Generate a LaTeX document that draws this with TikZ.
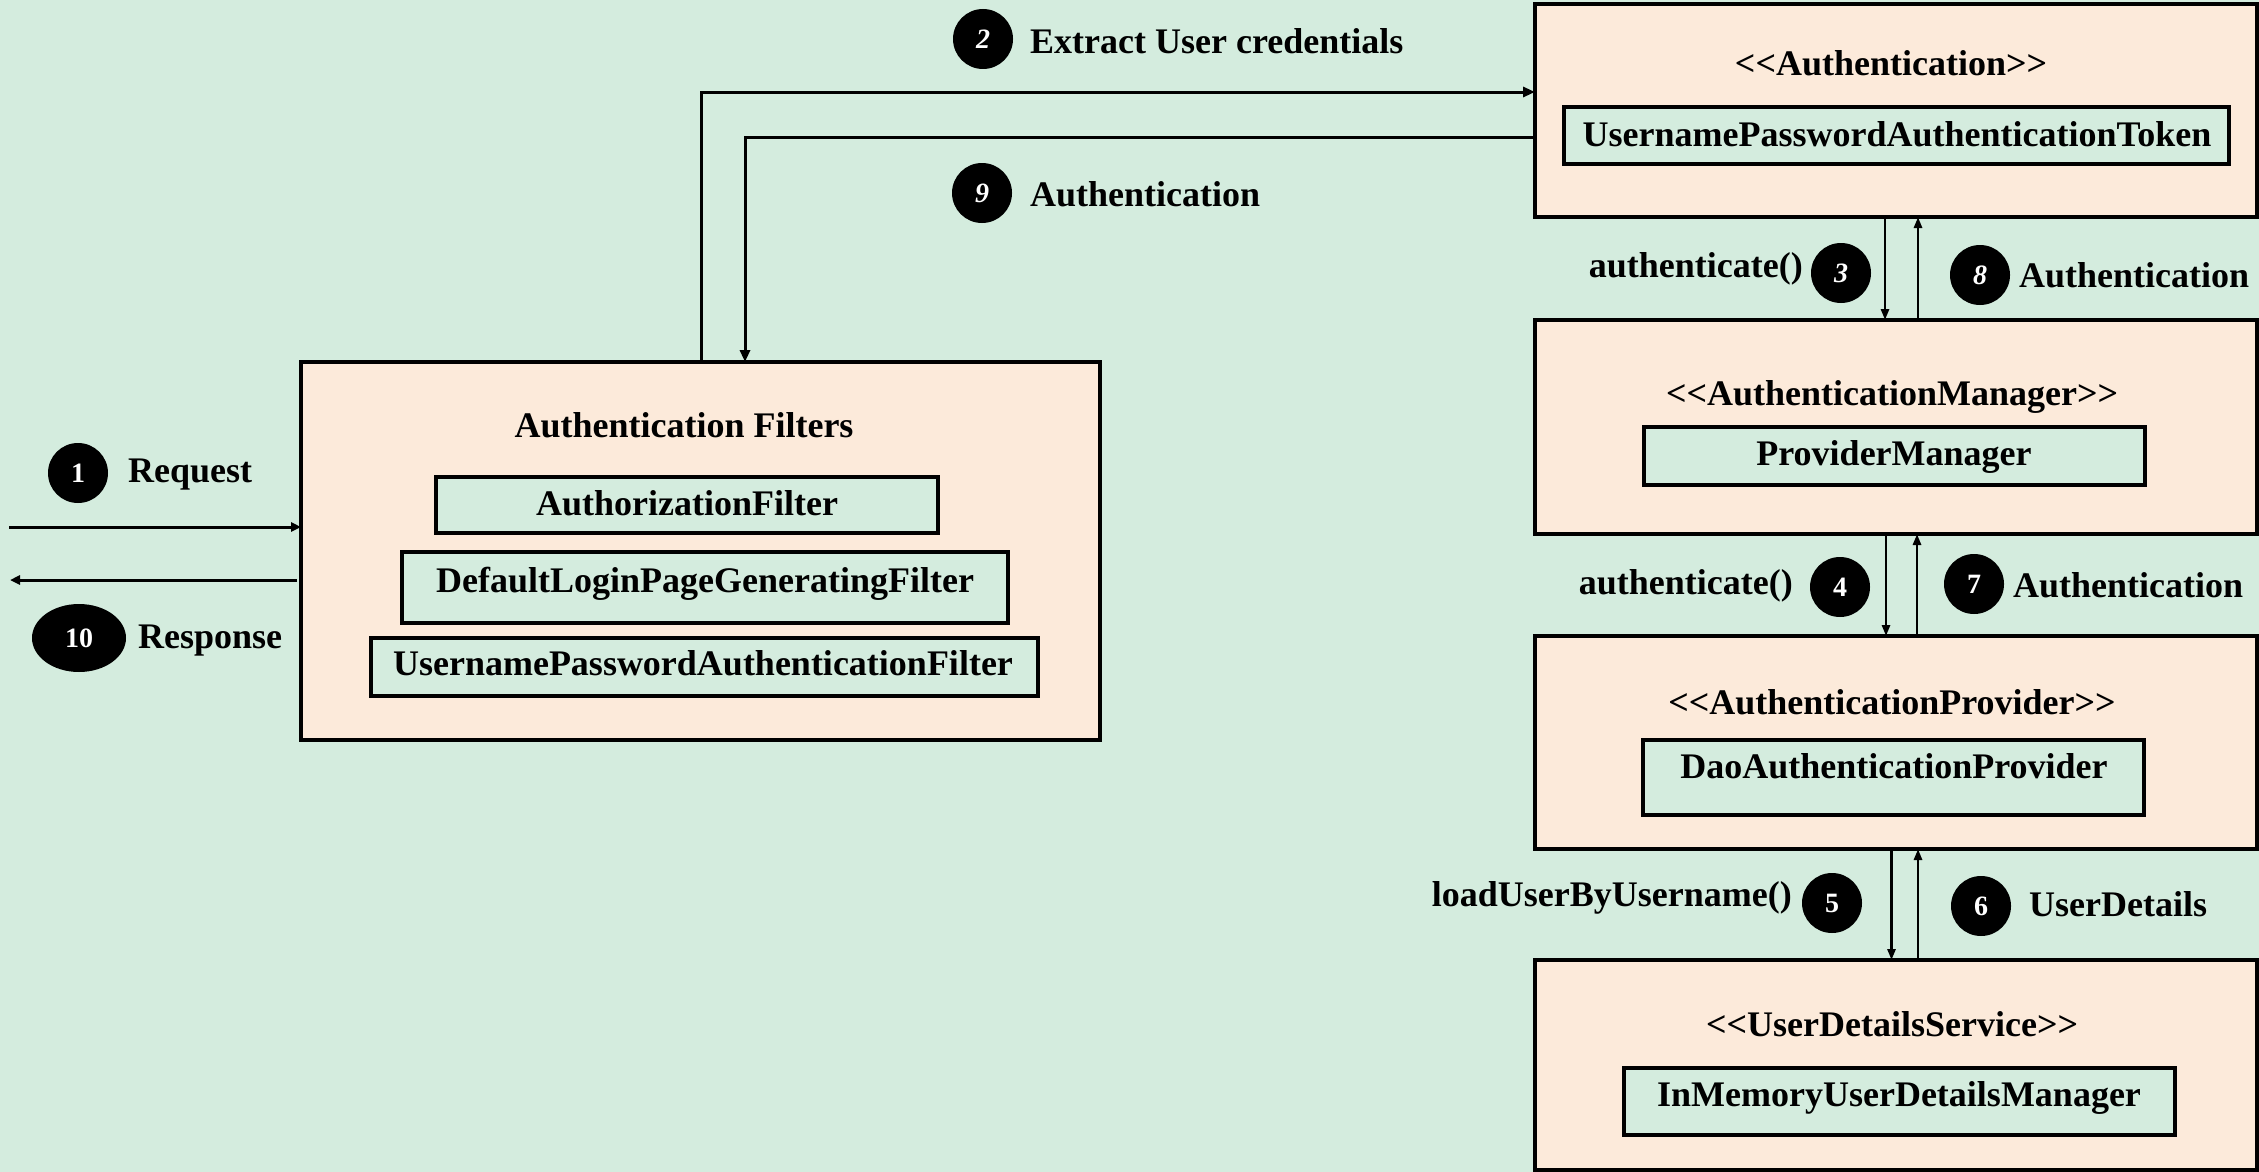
\documentclass[tikz,border=0pt]{standalone}
\usepackage{fontspec}
\setmainfont{Liberation Serif}
\usetikzlibrary{arrows.meta,shapes.geometric}
\definecolor{bgc}{RGB}{212,236,222}
\definecolor{peach}{RGB}{252,234,218}
\newcommand{\lt}{<\kern0pt<\kern0pt}
\newcommand{\gt}{\kern0pt>\kern0pt>}
\begin{document}
\begin{tikzpicture}[x=1pt,y=-1pt,
  outerbox/.style={draw, fill=peach, line width=3.5pt, inner sep=0pt, outer sep=0pt},
  innerbox/.style={draw, fill=bgc, line width=3.5pt, inner sep=0pt, outer sep=0pt},
  lbl/.style={font=\fontsize{36}{40}\selectfont\bfseries, inner sep=0pt, anchor=base},
  lblw/.style={lbl, anchor=base west},
  lble/.style={lbl, anchor=base east},
  numc/.style={circle, fill=black, minimum size=60pt, inner sep=0pt, text=white,
    font=\fontsize{28}{28}\selectfont\bfseries},
  conn/.style={line width=3pt, -{Triangle[length=12pt,width=10pt]}},
  thinarrow/.style={line width=2.7pt, -{Triangle[length=11pt,width=8pt]}}
]
\fill[bgc] (0,0) rectangle (2259,1172);
\useasboundingbox (0,0) rectangle (2259,1172);

% outer boxes
\node[outerbox, minimum width=799pt, minimum height=378pt] (filters) at (700.5,551) {};
\node[outerbox, minimum width=722pt, minimum height=213pt] (auth) at (1896,110.5) {};
\node[outerbox, minimum width=722pt, minimum height=214pt] (mgr) at (1896,427) {};
\node[outerbox, minimum width=722pt, minimum height=213pt] (prov) at (1896,742.5) {};
\node[outerbox, minimum width=722pt, minimum height=210pt] (uds) at (1896,1065) {};

% inner boxes
\node[innerbox, minimum width=502pt, minimum height=56pt] (authz) at (687,505) {};
\node[innerbox, minimum width=606pt, minimum height=71pt] (deflogin) at (705,587.5) {};
\node[innerbox, minimum width=667pt, minimum height=58pt] (upaf) at (704.5,667) {};
\node[innerbox, minimum width=665pt, minimum height=57pt] (token) at (1896.5,135.5) {};
\node[innerbox, minimum width=501pt, minimum height=58pt] (pm) at (1894.5,456) {};
\node[innerbox, minimum width=501pt, minimum height=75pt] (dao) at (1893.5,777.5) {};
\node[innerbox, minimum width=551pt, minimum height=67pt] (inmem) at (1899.5,1101.5) {};

% texts in boxes
\node[lbl] (tfilters) at (684,437) {Authentication Filters};
\node[lbl] (tauthz) at (687,515) {AuthorizationFilter};
\node[lbl] (tdeflogin) at (705,592) {DefaultLoginPageGeneratingFilter};
\node[lbl] (tupaf) at (703,675) {UsernamePasswordAuthenticationFilter};
\node[lbl] (tauth) at (1891,76) {\lt Authentication\gt};
\node[lbl] (ttoken) at (1897,146) {UsernamePasswordAuthenticationToken};
\node[lbl] (tmgr) at (1892,405) {\lt AuthenticationManager\gt};
\node[lbl] (tpm) at (1894,465) {ProviderManager};
\node[lbl] (tprov) at (1892,714) {\lt AuthenticationProvider\gt};
\node[lbl] (tdao) at (1894,778) {DaoAuthenticationProvider};
\node[lbl] (tuds) at (1892,1036) {\lt UserDetailsService\gt};
\node[lbl] (tinmem) at (1899,1106) {InMemoryUserDetailsManager};

% step labels
\node[lblw] (lreq) at (128,482) {Request};
\node[lblw] (lresp) at (138,648) {Response};
\node[lblw] (lextract) at (1030,53) {Extract User credentials};
\node[lblw] (lauth9) at (1030,206) {Authentication};
\node[lble] (lauth3) at (1803,277) {authenticate()};
\node[lblw] (lauth8) at (2019,287) {Authentication};
\node[lble] (lauth4) at (1793,594) {authenticate()};
\node[lblw] (lauth7) at (2013,597) {Authentication};
\node[lble] (lload) at (1792,906) {loadUserByUsername()};
\node[lblw] (lud) at (2029,916) {UserDetails};

% connectors left
\coordinate (reqstart) at (9,527);
\coordinate (respend) at (10,580);
\coordinate (respstart) at (297,580);
\draw[conn, -{Triangle[length=10pt,width=9pt]}] (reqstart) -- (reqstart -| filters.west);
\draw[conn, -{Triangle[length=10pt,width=9pt]}] (respstart) -- (respend);

% connectors top
\coordinate (c2a) at (701,92);
\coordinate (c9b) at (745,137);
\draw[conn] (c2a |- filters.north) -- (c2a) -- (c2a -| auth.west);
\draw[conn] (c9b -| auth.west) -- (c9b) -- (c9b |- filters.north);

% connectors right
\draw[thinarrow] ([xshift=-11pt]auth.south) -- ([xshift=-11pt]mgr.north);
\draw[thinarrow] ([xshift=22pt]mgr.north) -- ([xshift=22pt]auth.south);
\draw[thinarrow] ([xshift=-10pt]mgr.south) -- ([xshift=-10pt]prov.north);
\draw[thinarrow] ([xshift=21pt]prov.north) -- ([xshift=21pt]mgr.south);
\draw[thinarrow] ([xshift=-4.5pt]prov.south) -- ([xshift=-4.5pt]uds.north);
\draw[thinarrow] ([xshift=22pt]uds.north) -- ([xshift=22pt]prov.south);

% number badges
\node[numc] (n1) at (78,473) {1};
\node[numc, ellipse, minimum width=94pt, minimum height=68pt] (n10) at (79,638) {10};
\node[numc] (n2) at (983,39) {\itshape 2};
\node[numc] (n9) at (982,193) {\itshape 9};
\node[numc] (n3) at (1841,273) {\itshape 3};
\node[numc] (n8) at (1980,275) {\itshape 8};
\node[numc] (n4) at (1840,587) {4};
\node[numc] (n7) at (1974,584) {7};
\node[numc] (n5) at (1832,903) {5};
\node[numc] (n6) at (1981,906) {6};
\end{tikzpicture}
\end{document}
